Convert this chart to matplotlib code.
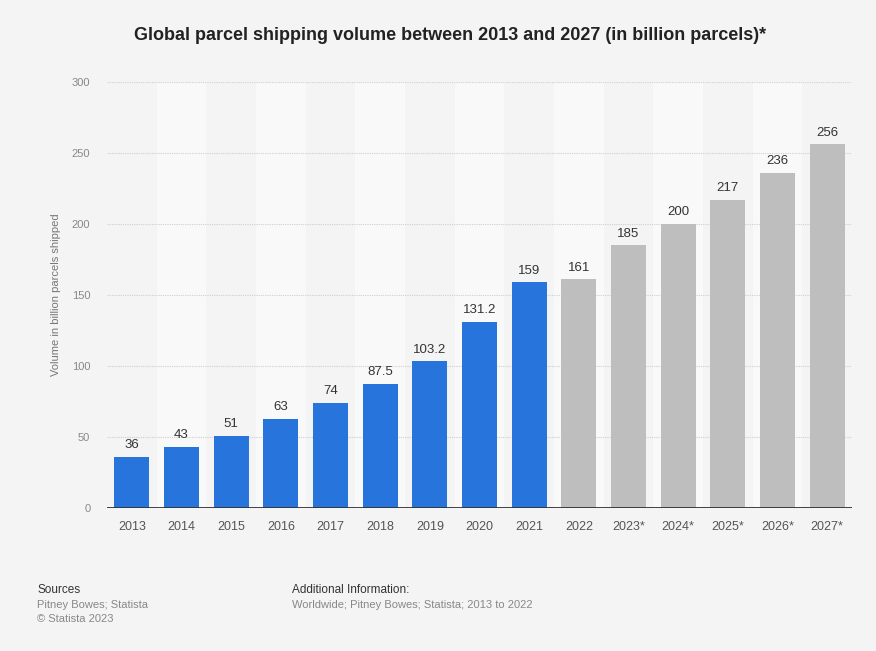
import matplotlib
matplotlib.use("Agg")
import matplotlib.pyplot as plt

years = ["2013", "2014", "2015", "2016", "2017", "2018", "2019", "2020", "2021",
         "2022", "2023*", "2024*", "2025*", "2026*", "2027*"]
volumes = [36, 43, 51, 63, 74, 87.5, 103.2, 131.2, 159, 161, 185, 200, 217, 236, 256]
value_labels = ["36", "43", "51", "63", "74", "87.5", "103.2", "131.2", "159",
                "161", "185", "200", "217", "236", "256"]
n_actual = 9  # 2013-2021 in blue, rest grey
y_ticks = [0, 50, 100, 150, 200, 250, 300]

plt.rcParams['font.family'] = ['Liberation Sans', 'DejaVu Sans']

BG = "#f4f4f4"
BLUE = "#2775dc"
GREY = "#bebebe"

fig = plt.figure(figsize=(8.76, 6.51), dpi=100, facecolor=BG)
ax = fig.add_axes([107/876, 1 - 508/651, (852-107)/876, (508-82)/651])
ax.set_facecolor(BG)

x = list(range(len(years)))
# alternating background bands
for i in x:
    if i % 2 == 1:
        ax.axvspan(i - 0.5, i + 0.5, ymin=0, ymax=1, color="#f9f9f9", zorder=0, lw=0)

colors = [BLUE if i < n_actual else GREY for i in x]
bars = ax.bar(x, volumes, width=0.7, color=colors, zorder=3)

for xi, v, lab in zip(x, volumes, value_labels):
    ax.text(xi, v + 4, lab, ha="center", va="bottom", fontsize=9.5, color="#333333", zorder=4)

ax.set_xlim(-0.5, len(years) - 0.5)
ax.set_ylim(0, 300)
ax.set_yticks(y_ticks)
ax.set_yticklabels([str(t) for t in y_ticks], fontsize=8, color="#888888")
ax.set_xticks(x)
ax.set_xticklabels(years, fontsize=9, color="#555555")
ax.tick_params(axis="both", length=0)
ax.tick_params(axis="x", pad=9)
ax.tick_params(axis="y", pad=12)

for t in y_ticks[1:]:
    ax.axhline(t, color="#cfcfcf", lw=0.8, ls=(0, (1, 1)), zorder=1)
ax.axhline(0, color="#333333", lw=1.3, zorder=5)

for s in ax.spines.values():
    s.set_visible(False)

ax.set_ylabel("Volume in billion parcels shipped", fontsize=8, color="#777777", labelpad=8)

fig.text(450/876, 1 - 35/651, "Global parcel shipping volume between 2013 and 2027 (in billion parcels)*",
         ha="center", va="center", fontsize=13, fontweight="bold", color="#222222")

fig.text(37/876, 1 - 590/651, "Sources", fontsize=8.5, color="#333333", va="center")
fig.text(37/876, 1 - 605/651, "Pitney Bowes; Statista", fontsize=8, color="#888888", va="center")
fig.text(37/876, 1 - 619/651, "\u00a9 Statista 2023", fontsize=8, color="#888888", va="center")
fig.text(292/876, 1 - 590/651, "Additional Information:", fontsize=8.5, color="#333333", va="center")
fig.text(292/876, 1 - 605/651, "Worldwide; Pitney Bowes; Statista; 2013 to 2022", fontsize=8,
         color="#888888", va="center")

fig.savefig("out.png", dpi=100, facecolor=BG)
